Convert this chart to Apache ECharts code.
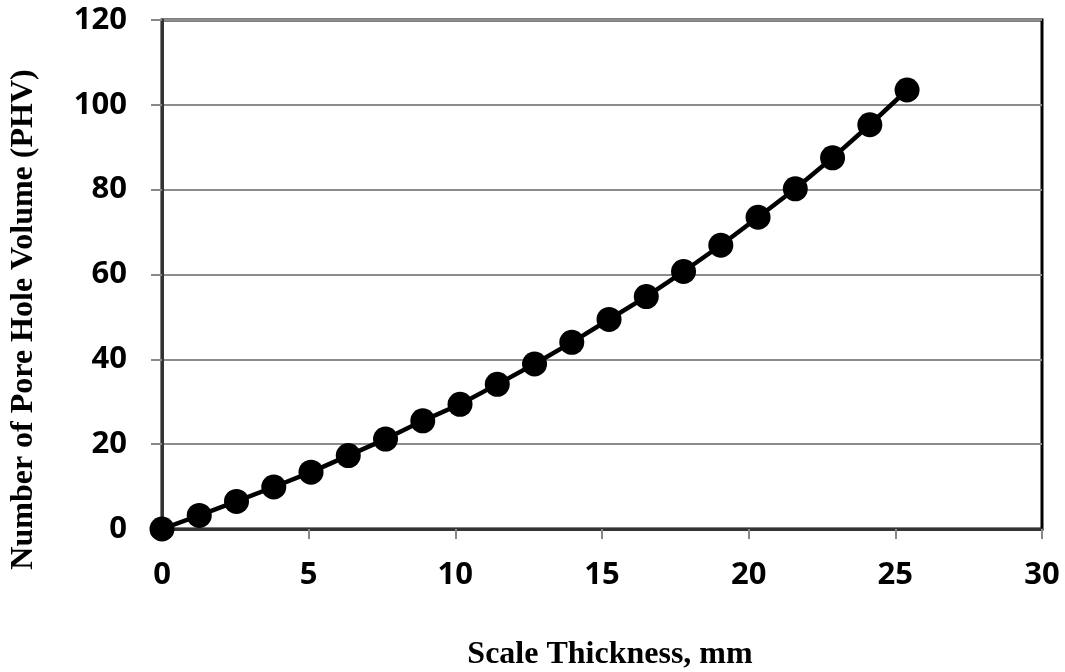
<!DOCTYPE html>
<html><head><meta charset="utf-8">
<script src="https://cdn.jsdelivr.net/npm/echarts@6/dist/echarts.min.js"></script>
<style>html,body{margin:0;padding:0;background:#fff}#c{width:1065px;height:672px}</style>
</head><body><div id="c"></div>
<script>
const thickness = [0, 1.27, 2.54, 3.81, 5.08, 6.35, 7.62, 8.89, 10.16, 11.43, 12.7, 13.97, 15.24, 16.51, 17.78, 19.05, 20.32, 21.59, 22.86, 24.13, 25.4];
const phv = [0, 3.2, 6.5, 9.9, 13.4, 17.3, 21.2, 25.5, 29.4, 34.1, 38.9, 44.0, 49.4, 54.8, 60.7, 66.9, 73.5, 80.2, 87.5, 95.3, 103.5];
const xName = 'Scale Thickness, mm';
const yName = 'Number of Pore Hole Volume (PHV)';

const chart = echarts.init(document.getElementById('c'));
const tickFont = {fontFamily: 'Open Sans', fontWeight: 'bold', fontSize: 31, color: '#000'};
chart.setOption({
  animation: false,
  grid: {left: 162, right: 23, top: 20, bottom: 143, containLabel: false, outerBoundsMode: 'none',
         show: true, borderColor: '#000', borderWidth: 3, backgroundColor: '#fff'},
  xAxis: {
    type: 'value', min: 0, max: 30, interval: 5,
    name: xName, nameLocation: 'middle', nameGap: 110,
    nameTextStyle: {fontFamily: 'Liberation Serif', fontWeight: 'bold', fontSize: 32, color: '#000', padding: [0, 0, 0, 16]},
    axisLabel: Object.assign({margin: 31}, tickFont),
    axisLine: {show: true, onZero: false, lineStyle: {color: '#333', width: 3}},
    axisTick: {show: true, length: 10, lineStyle: {color: '#888', width: 2}},
    splitLine: {show: false}
  },
  yAxis: {
    type: 'value', min: 0, max: 120, interval: 20,
    name: yName, nameLocation: 'middle', nameGap: 122,
    nameTextStyle: {fontFamily: 'Liberation Serif', fontWeight: 'bold', fontSize: 32, color: '#000', padding: [0, 90, 0, 0]},
    axisLabel: Object.assign({margin: 35}, tickFont),
    axisLine: {show: true, lineStyle: {color: '#333', width: 3}},
    axisTick: {show: true, length: 11, lineStyle: {color: '#888', width: 2}},
    splitLine: {show: true, lineStyle: {color: '#8c8c8c', width: 2}}
  },
  series: [{
    type: 'line',
    data: thickness.map((x, i) => [x, phv[i]]),
    symbol: 'circle', symbolSize: 25,
    lineStyle: {color: '#000', width: 4.5},
    itemStyle: {color: '#000'},
    clip: false
  }]
});
</script></body></html>
